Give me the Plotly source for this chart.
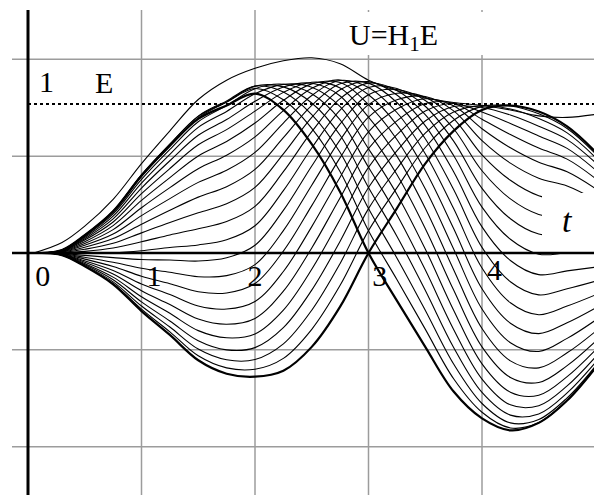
import plotly.graph_objects as go

# Time samples shared by the family of responses
t_grid = [0.12, 0.3, 0.5, 0.75, 1.0, 1.25, 1.5, 1.75, 2.0, 2.25, 2.5, 2.75, 3.0,
          3.25, 3.5, 3.75, 4.0, 4.25, 4.5, 4.75, 5.0]

# Family of output curves U (one list per member)
u00 = [0, .020, .120, .280, .520, .720, .900, .990, 1.070, .960, .730, .410, 0, -.320, -.630, -.930, -1.110, -1.190, -1.140, -.990, -.770]
u01 = [0, .020, .120, .282, .525, .730, .917, 1.013, 1.104, 1.028, .836, .546, .150, -.178, -.511, -.844, -1.069, -1.174, -1.138, -.989, -.770]
u02 = [0, .020, .119, .280, .522, .730, .919, 1.021, 1.120, 1.080, .929, .674, .298, -.033, -.384, -.745, -1.010, -1.140, -1.117, -.972, -.758]
u03 = [0, .020, .116, .272, .512, .718, .907, 1.014, 1.120, 1.115, 1.007, .790, .440, .113, -.250, -.634, -.936, -1.088, -1.080, -.939, -.734]
u04 = [0, .019, .111, .262, .494, .695, .881, .989, 1.103, 1.133, 1.069, .893, .575, .257, -.113, -.513, -.846, -1.019, -1.025, -.892, -.698]
u05 = [0, .018, .104, .247, .469, .662, .843, .950, 1.069, 1.132, 1.113, .982, .700, .395, .027, -.384, -.744, -.934, -.955, -.830, -.651]
u06 = [0, .016, .096, .229, .436, .619, .790, .896, 1.018, 1.114, 1.139, 1.054, .813, .527, .165, -.249, -.630, -.835, -.869, -.756, -.593]
u07 = [0, .015, .087, .208, .398, .567, .726, .828, .952, 1.078, 1.146, 1.108, .912, .650, .301, -.112, -.507, -.724, -.771, -.670, -.526]
u08 = [0, .013, .076, .184, .353, .506, .651, .748, .872, 1.025, 1.135, 1.144, .996, .762, .431, .027, -.376, -.602, -.661, -.573, -.451]
u09 = [0, .011, .064, .157, .304, .439, .566, .656, .779, .956, 1.105, 1.161, 1.062, .860, .553, .164, -.240, -.471, -.541, -.468, -.369]
u10 = [0, .009, .052, .127, .251, .365, .474, .555, .675, .872, 1.057, 1.158, 1.111, .943, .666, .298, -.101, -.334, -.414, -.356, -.281]
u11 = [0, .007, .039, .097, .193, .287, .375, .445, .561, .774, .991, 1.136, 1.140, 1.010, .767, .426, .038, -.193, -.281, -.240, -.189]
u12 = [0, .004, .025, .065, .135, .205, .270, .330, .440, .665, .910, 1.095, 1.150, 1.060, .855, .545, .175, -.050, -.145, -.120, -.095]
u13 = [0, .002, .011, .033, .075, .121, .163, .211, .313, .546, .814, 1.036, 1.140, 1.091, .928, .654, .308, .092, -.008, .000, .000]
u14 = [0, .000, -.002, .001, .015, .037, .054, .089, .183, .419, .705, .959, 1.111, 1.104, .985, .751, .434, .230, .127, .120, .094]
u15 = [0, -.003, -.016, -.031, -.044, -.047, -.054, -.032, .052, .286, .584, .866, 1.062, 1.097, 1.024, .834, .552, .363, .259, .236, .186]
u16 = [0, -.005, -.029, -.062, -.102, -.129, -.159, -.152, -.078, .150, .455, .759, .996, 1.072, 1.046, .902, .659, .488, .384, .347, .274]
u17 = [0, -.007, -.041, -.090, -.156, -.206, -.260, -.268, -.205, .013, .318, .640, .912, 1.028, 1.050, .954, .754, .603, .502, .450, .357]
u18 = [0, -.009, -.052, -.117, -.208, -.279, -.356, -.376, -.325, -.124, .177, .509, .813, .966, 1.035, .988, .834, .706, .609, .545, .432]
u19 = [0, -.011, -.062, -.141, -.253, -.346, -.443, -.478, -.439, -.256, .034, .371, .700, .887, 1.003, 1.005, .898, .795, .704, .630, .500]
u20 = [0, -.012, -.071, -.162, -.294, -.405, -.521, -.569, -.543, -.383, -.109, .227, .575, .794, .953, 1.003, .946, .869, .785, .702, .558]
u21 = [0, -.013, -.078, -.180, -.328, -.456, -.589, -.650, -.635, -.501, -.249, .079, .440, .686, .886, .983, .977, .926, .851, .761, .606]
u22 = [0, -.014, -.083, -.194, -.356, -.497, -.645, -.717, -.715, -.610, -.384, -.070, .298, .566, .804, .946, .989, .966, .902, .806, .642]
u23 = [0, -.015, -.088, -.204, -.377, -.529, -.690, -.771, -.780, -.707, -.512, -.217, .150, .437, .708, .891, .984, .987, .934, .836, .667]
u24 = [0, -.015, -.090, -.210, -.390, -.550, -.720, -.810, -.830, -.790, -.630, -.360, 0, .300, .600, .820, .960, .990, .950, .850, .680]

# Single overshooting response drawn above the family
s_t = [0.05, 0.3, 0.5, 0.75, 1.0, 1.25, 1.5, 1.75, 2.0, 2.25, 2.5, 2.75, 3.0,
       3.25, 3.5, 3.75, 4.0, 4.25, 4.5, 4.75, 5.0]
s_val = [0, .07, .18, .36, .60, .82, 1.03, 1.16, 1.24, 1.29, 1.31, 1.27, 1.16,
         1.09, 1.04, 1.01, .99, .96, .92, .91, .93]

# Input step level E
e_t = [0.0, 5.0]
e_val = [1.0, 1.0]

tick_labels = ["0", "1", "2", "3", "4"]
grid_t = [1, 2, 3, 4]
grid_y = [-1.3, -0.65, 0.65, 1.3]

# ---- page geometry: the plotting area fills the whole 594x495 page ----
W, H = 594, 495
PX_PER_T = 113.5
PX_PER_Y = 149.0
X0_PX, Y0_PX = 28.0, 253.0
x_range = [-X0_PX / PX_PER_T, (W - X0_PX) / PX_PER_T]
y_range = [(Y0_PX - H) / PX_PER_Y, Y0_PX / PX_PER_Y]


def tx(px):
    return (px - X0_PX) / PX_PER_T


def ty(py):
    return (Y0_PX - py) / PX_PER_Y


SERIF = "Liberation Serif"
fig = go.Figure()

# Axis numbers sit beneath the curves
label_dx = [0.13, 0.11, 0.0, 0.10, 0.11]
label_y = [ty(278), ty(278), ty(278), ty(278), ty(272)]
fig.add_trace(go.Scatter(
    x=[v + d for v, d in zip(range(len(tick_labels)), label_dx)], y=label_y,
    mode="text", text=tick_labels,
    textfont=dict(family=SERIF, size=30, color="black"),
    hoverinfo="skip", showlegend=False))

family = [u00, u01, u02, u03, u04, u05, u06, u07, u08, u09, u10, u11, u12,
          u13, u14, u15, u16, u17, u18, u19, u20, u21, u22, u23, u24]
for i, ys in enumerate(family):
    edge = i in (0, len(family) - 1)
    fig.add_trace(go.Scatter(
        x=t_grid, y=ys, mode="lines",
        line=dict(color="black", width=2.2 if edge else 1.1,
                  shape="spline", smoothing=1.0),
        hoverinfo="skip", showlegend=False))

fig.add_trace(go.Scatter(
    x=s_t, y=s_val, mode="lines",
    line=dict(color="black", width=1.1, shape="spline", smoothing=1.0),
    hoverinfo="skip", showlegend=False))

fig.add_trace(go.Scatter(
    x=e_t, y=e_val, mode="lines",
    line=dict(color="black", width=2.2, dash="dot"),
    hoverinfo="skip", showlegend=False))

shapes = []
grid_style = dict(color="#9c9c9c", width=1.5)
for g in grid_t:
    shapes.append(dict(type="line", layer="below", x0=g, x1=g, y0=ty(10),
                       y1=y_range[0], line=grid_style))
for g in grid_y:
    shapes.append(dict(type="line", layer="below", x0=tx(12), x1=x_range[1],
                       y0=g, y1=g, line=grid_style))
# main axes
shapes.append(dict(type="line", layer="below", x0=tx(12), x1=x_range[1],
                   y0=0, y1=0, line=dict(color="black", width=2.5)))
shapes.append(dict(type="line", layer="below", x0=0, x1=0, y0=ty(10),
                   y1=y_range[0], line=dict(color="black", width=3)))
# white backing behind the title and the t label
shapes.append(dict(type="rect", layer="above", x0=tx(345), x1=x_range[1] + 0.1,
                   y0=ty(55), y1=ty(12), fillcolor="white",
                   line=dict(width=0)))
shapes.append(dict(type="rect", layer="above", x0=tx(542), x1=x_range[1] + 0.1,
                   y0=ty(247), y1=ty(193), fillcolor="white",
                   line=dict(width=0)))

annotations = [
    dict(x=tx(46), y=ty(81), text="1", showarrow=False,
         font=dict(family=SERIF, size=30, color="black")),
    dict(x=tx(104), y=ty(82), text="E", showarrow=False,
         font=dict(family=SERIF, size=30, color="black")),
    dict(x=tx(393), y=ty(37), text="U=H<sub>1</sub>E", showarrow=False,
         font=dict(family=SERIF, size=30, color="black")),
    dict(x=tx(567), y=ty(220), text="<i>t</i>", showarrow=False,
         font=dict(family=SERIF, size=34, color="black")),
]

fig.update_layout(
    width=W, height=H,
    margin=dict(l=0, r=0, t=0, b=0),
    paper_bgcolor="white", plot_bgcolor="white",
    font=dict(family=SERIF),
    xaxis=dict(range=x_range, visible=False, fixedrange=True),
    yaxis=dict(range=y_range, visible=False, fixedrange=True),
    shapes=shapes, annotations=annotations, showlegend=False,
)

fig.write_html("out.html")
